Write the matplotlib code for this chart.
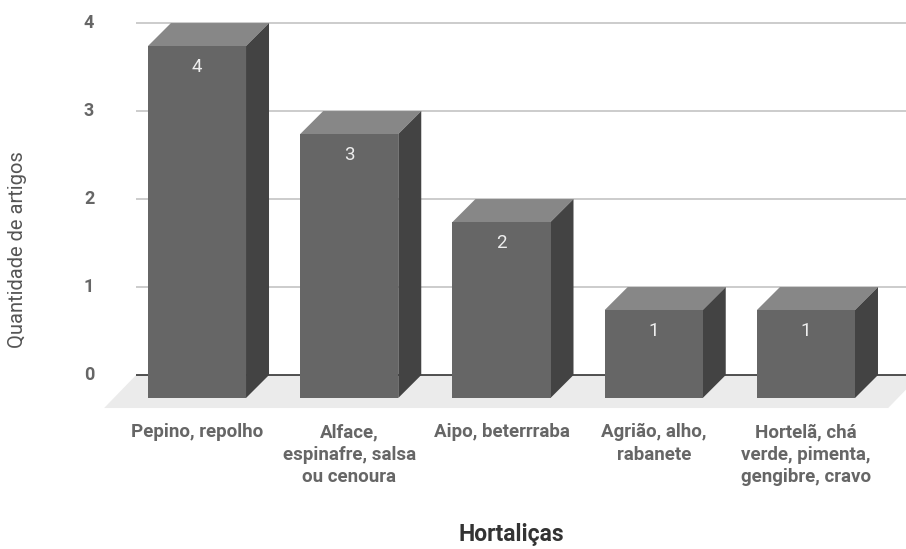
import matplotlib
matplotlib.use("Agg")
import matplotlib.pyplot as plt

# data
categorias = ["Pepino, repolho", "Alface,\nespinafre, salsa\nou cenoura", "Aipo, beterrraba",
              "Agrião, alho,\nrabanete", "Hortelã, chá\nverde, pimenta,\ngengibre, cravo"]
valores = [4, 3, 2, 1, 1]
yticks = [0, 1, 2, 3, 4]

plt.rcParams['font.family'] = ['Roboto', 'DejaVu Sans']

fig = plt.figure(figsize=(9.06, 5.49), dpi=100)
ax = fig.add_axes([0, 0, 1, 1])

# scales: one category = 152.25 px, one unit = 88 px
ax.set_xlim(-1.294, 4.657)
ax.set_ylim(-1.716, 4.523)
ax.axis('off')

w = 0.644      # bar width
dx = 0.151     # depth offset in x (category units)
dy = 0.261     # depth offset in y (value units)

# floor
fdx = 32 / 152.25
fdy = 33 / 88
fx0, fx1 = -0.40, 4.75
ax.fill([fx0, fx1, fx1 - fdx, fx0 - fdx], [dy, dy, dy - fdy, dy - fdy],
        color='#ebebeb', lw=0, zorder=1)

# back gridlines
for t in yticks:
    col = '#333333' if t == 0 else '#cccccc'
    ax.plot([fx0, 5.0], [t + dy, t + dy], color=col, lw=1.2 if t == 0 else 1.4, zorder=0.5 if t else 1.5,
            solid_capstyle='butt')
    ax.text(-0.709, t + dy, str(t), ha='center', va='center', fontsize=13,
            fontweight='bold', color='#666666')

# bars
for i, v in enumerate(valores):
    x0, x1 = i - w / 2, i + w / 2
    ax.fill([x0, x1, x1 + dx, x0 + dx], [v, v, v + dy, v + dy], color='#878787', lw=0, zorder=3)
    ax.fill([x1, x1 + dx, x1 + dx, x1], [0, dy, v + dy, v], color='#434343', lw=0, zorder=3)
    ax.fill([x0, x1, x1, x0], [0, 0, v, v], color='#666666', lw=0, zorder=3)
    ax.text(i, v - 0.24, str(v), ha='center', va='center', fontsize=13.5,
            color='#eeeeee', zorder=4)
    ax.text(i, -0.285, categorias[i], ha='center', va='top', fontsize=13.5,
            fontweight='bold', color='#666666', linespacing=1.32)

fig.text(511 / 906, 1 - 535 / 549, "Hortaliças", ha='center', va='center',
         fontsize=16.5, fontweight='bold', color='#333333')
fig.text(18 / 906, 1 - 250 / 549, "Quantidade de artigos", ha='center', va='center',
         rotation=90, fontsize=14.5, color='#555555')

fig.savefig("out.png", dpi=100)
